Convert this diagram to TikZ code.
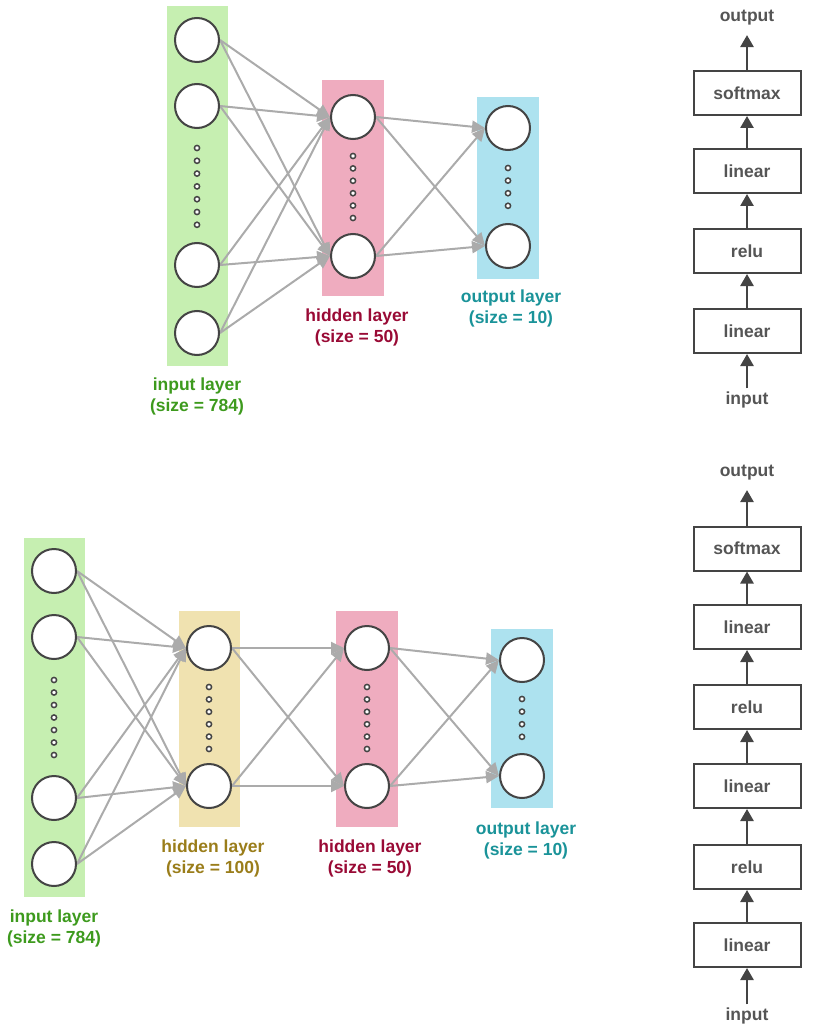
\documentclass[tikz,border=0pt]{standalone}
\usepackage{fontspec}
\setmainfont{Liberation Sans}
\usepackage{tikz}
\usetikzlibrary{arrows.meta}
\pgfdeclarelayer{back}
\pgfdeclarelayer{bg}
\pgfsetlayers{back,bg,main}

\definecolor{greenl}{HTML}{C6EFB1}
\definecolor{pinkl}{HTML}{EFACBF}
\definecolor{bluel}{HTML}{ADE2EF}
\definecolor{yellowl}{HTML}{F0E2B0}
\definecolor{greent}{HTML}{3D9A1D}
\definecolor{redt}{HTML}{990A35}
\definecolor{tealt}{HTML}{1A9399}
\definecolor{olivet}{HTML}{9A7D1A}
\definecolor{edgec}{HTML}{ABABAB}
\definecolor{ringc}{HTML}{444444}
\definecolor{boxt}{HTML}{555555}

\tikzset{
  unit/.style={circle, draw=ringc, line width=2pt, fill=white, minimum size=44pt, inner sep=0pt},
  dotc/.style={draw=ringc, line width=1.5pt, fill=white},
  band/.style={inner sep=0pt, minimum width=#1},
  syn/.style={draw=edgec, line width=2pt, -{Triangle[length=13pt,width=12pt]}},
  lbl/.style={font=\fontsize{17.5}{21}\selectfont\bfseries, align=center},
  op/.style={draw=ringc, line width=2pt, minimum width=107pt, minimum height=44pt, inner sep=0pt,
    text=boxt, font=\fontsize{17.5}{21}\selectfont\bfseries},
  io/.style={text=boxt, font=\fontsize{17.5}{21}\selectfont\bfseries},
  flow/.style={draw=ringc, line width=2.6pt, -{Triangle[length=12pt,width=13pt]}}
}

\begin{document}
\begin{tikzpicture}[x=1pt, y=-1pt]
        \useasboundingbox (0,0) rectangle (812,1032);

        % top network
        \begin{pgfonlayer}{back}
                \node (tL1) [band=61pt, minimum height=360pt, fill=greenl] at (197.5,186) {};
                \node (tL2) [band=62pt, minimum height=216pt, fill=pinkl] at (353,188) {};
                \node (tL3) [band=62pt, minimum height=182pt, fill=bluel] at (508,188) {};
        \end{pgfonlayer}
        \node (ti1) [unit] at (197,40) {};
        \node (ti2) [unit] at (197,106) {};
        \node (ti3) [unit] at (197,265) {};
        \node (ti4) [unit] at (197,333) {};
        \node (th1) [unit] at (353,117) {};
        \node (th2) [unit] at (353,256) {};
        \node (to1) [unit] at (508,128) {};
        \node (to2) [unit] at (508,246) {};
        \foreach \k in {0,...,6} \draw[dotc] (197,148+12.8*\k) circle (2.6pt);
        \foreach \k in {0,...,5} \draw[dotc] (353,156+12.4*\k) circle (2.6pt);
        \foreach \k in {0,...,3} \draw[dotc] (508,168+12.6*\k) circle (2.6pt);
        \node (tt1) [lbl, text=greent] at (197,396.5) {input layer\\(size = 784)};
        \node (tt2) [lbl, text=redt] at (357,327.5) {hidden layer\\(size = 50)};
        \node (tt3) [lbl, text=tealt] at (511,308.5) {output layer\\(size = 10)};
        \begin{pgfonlayer}{bg}
                \draw (ti1.east) edge [syn] (th1.west);
                \draw (ti1.east) edge [syn] (th2.west);
                \draw (ti2.east) edge [syn] (th1.west);
                \draw (ti2.east) edge [syn] (th2.west);
                \draw (ti3.east) edge [syn] (th1.west);
                \draw (ti3.east) edge [syn] (th2.west);
                \draw (ti4.east) edge [syn] (th1.west);
                \draw (ti4.east) edge [syn] (th2.west);
                \draw (th1.east) edge [syn] (to1.west);
                \draw (th1.east) edge [syn] (to2.west);
                \draw (th2.east) edge [syn] (to1.west);
                \draw (th2.east) edge [syn] (to2.west);
        \end{pgfonlayer}

        % bottom network
        \begin{pgfonlayer}{back}
                \node (bL1) [band=61pt, minimum height=359pt, fill=greenl] at (54.5,717.5) {};
                \node (bL2) [band=61pt, minimum height=216pt, fill=yellowl] at (209.5,719) {};
                \node (bL3) [band=62pt, minimum height=216pt, fill=pinkl] at (367,719) {};
                \node (bL4) [band=62pt, minimum height=179pt, fill=bluel] at (522,718.5) {};
        \end{pgfonlayer}
        \node (bi1) [unit] at (54,571) {};
        \node (bi2) [unit] at (54,637) {};
        \node (bi3) [unit] at (54,798) {};
        \node (bi4) [unit] at (54,864) {};
        \node (bh1) [unit] at (209,648) {};
        \node (bh2) [unit] at (209,786) {};
        \node (bk1) [unit] at (367,648) {};
        \node (bk2) [unit] at (367,786) {};
        \node (bo1) [unit] at (522,660) {};
        \node (bo2) [unit] at (522,776) {};
        \foreach \k in {0,...,6} \draw[dotc] (54,680+12.5*\k) circle (2.6pt);
        \foreach \k in {0,...,5} \draw[dotc] (209,687+12.4*\k) circle (2.6pt);
        \foreach \k in {0,...,5} \draw[dotc] (367,687+12.4*\k) circle (2.6pt);
        \foreach \k in {0,...,3} \draw[dotc] (522,699+12.6*\k) circle (2.6pt);
        \node (bt1) [lbl, text=greent] at (54,928) {input layer\\(size = 784)};
        \node (bt2) [lbl, text=olivet] at (213,858.5) {hidden layer\\(size = 100)};
        \node (bt3) [lbl, text=redt] at (370,858.5) {hidden layer\\(size = 50)};
        \node (bt4) [lbl, text=tealt] at (526,840.5) {output layer\\(size = 10)};
        \begin{pgfonlayer}{bg}
                \draw (bi1.east) edge [syn] (bh1.west);
                \draw (bi1.east) edge [syn] (bh2.west);
                \draw (bi2.east) edge [syn] (bh1.west);
                \draw (bi2.east) edge [syn] (bh2.west);
                \draw (bi3.east) edge [syn] (bh1.west);
                \draw (bi3.east) edge [syn] (bh2.west);
                \draw (bi4.east) edge [syn] (bh1.west);
                \draw (bi4.east) edge [syn] (bh2.west);
                \draw (bh1.east) edge [syn] (bk1.west);
                \draw (bh1.east) edge [syn] (bk2.west);
                \draw (bh2.east) edge [syn] (bk1.west);
                \draw (bh2.east) edge [syn] (bk2.west);
                \draw (bk1.east) edge [syn] (bo1.west);
                \draw (bk1.east) edge [syn] (bo2.west);
                \draw (bk2.east) edge [syn] (bo1.west);
                \draw (bk2.east) edge [syn] (bo2.west);
        \end{pgfonlayer}

        % top stack
        \node (s0) [io] at (747,18) {output};
        \node (s1) [op] at (747,93) {softmax};
        \node (s2) [op] at (747,171) {linear};
        \node (s3) [op] at (747,251) {relu};
        \node (s4) [op] at (747,331) {linear};
        \node (s5) [io] at (747,400) {input};
        \draw (s5) edge [flow] (s4);
        \draw (s4) edge [flow] (s3);
        \draw (s3) edge [flow] (s2);
        \draw (s2) edge [flow] (s1);
        \draw (s1) edge [flow, shorten >=6pt] (s0);

        % bottom stack
        \node (r0) [io] at (747,473) {output};
        \node (r1) [op] at (747,548.5) {softmax};
        \node (r2) [op] at (747,627) {linear};
        \node (r3) [op] at (747,707) {relu};
        \node (r4) [op] at (747,786) {linear};
        \node (r5) [op] at (747,867) {relu};
        \node (r6) [op] at (747,945) {linear};
        \node (r7) [io] at (747,1016) {input};
        \draw (r7) edge [flow] (r6);
        \draw (r6) edge [flow] (r5);
        \draw (r5) edge [flow] (r4);
        \draw (r4) edge [flow] (r3);
        \draw (r3) edge [flow] (r2);
        \draw (r2) edge [flow] (r1);
        \draw (r1) edge [flow, shorten >=6pt] (r0);
\end{tikzpicture}
\end{document}
